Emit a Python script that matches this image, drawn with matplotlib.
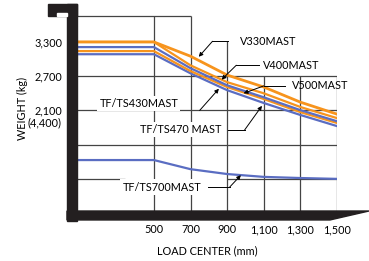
import matplotlib
matplotlib.use('Agg')
import matplotlib.pyplot as plt
from matplotlib.patches import Rectangle, Polygon

plt.rcParams['font.family'] = ['Lato', 'DejaVu Sans']
plt.rcParams['font.size'] = 7.8

# load center (mm) and rated weight (kg)
load_center = [80, 500, 700, 900, 1100, 1300, 1500]
v330 = [3300, 3300, 3050, 2720, 2510, 2245, 2035]
v400 = [3300, 3300, 2890, 2595, 2400, 2160, 1965]
tfts430 = [3210, 3210, 2840, 2540, 2330, 2105, 1910]
v500 = [3140, 3140, 2790, 2510, 2300, 2070, 1880]
tfts470 = [3085, 3085, 2750, 2455, 2230, 2020, 1825]
tfts700 = [1230, 1230, 1070, 985, 935, 915, 900]

x_ticks = [500, 700, 900, 1100, 1300, 1500]
x_labels = ['500', '700', '900', '1,100', '1,300', '1,500']
y_ticks = [3300, 2700, 2100]
y_labels = ['3,300', '2,700', '2,100']

orange = '#F7941D'
blue = '#5A6DC2'
gridc = '#444444'

fig = plt.figure(figsize=(3.69, 2.61), dpi=100)
ax = fig.add_axes([77/369, 1-211/261, 260/369, 195/261])
ax.set_xlim(80, 1500)
ax.set_ylim(337, 3755)
for s in ax.spines.values():
    s.set_visible(False)

# stepped grid
ax.vlines([500, 700], 337, 3755, color=gridc, lw=0.9, zorder=1)
ax.vlines([900], 337, 3312, color=gridc, lw=0.9, zorder=1)
ax.vlines([1100, 1300, 1500], 337, 2700, color=gridc, lw=0.9, zorder=1)
ax.hlines(3755, 80, 700, color=gridc, lw=0.9, zorder=1, clip_on=False)
ax.hlines([2700, 2100, 1500], 80, 1500, color=gridc, lw=0.9, zorder=1)
ax.hlines(900, 80, 340, color=gridc, lw=0.9, zorder=1)
ax.hlines(900, 900, 1500, color=gridc, lw=0.9, zorder=1)

# curves
lw = 1.6
ax.plot(load_center, tfts700, color=blue, lw=lw, zorder=3)
ax.plot(load_center, tfts470, color=blue, lw=lw, zorder=3)
ax.plot(load_center, v500, color=orange, lw=lw, zorder=3)
ax.plot(load_center, tfts430, color=blue, lw=lw, zorder=3)
ax.plot(load_center, v400, color=orange, lw=lw, zorder=3)
ax.plot(load_center, v330, color=orange, lw=lw + 0.4, zorder=3)

# black frame
blk = '#231F20'
ax.add_patch(Rectangle((-0.0385, -0.051), 0.0385, 1.1125, transform=ax.transAxes,
                       color=blk, clip_on=False, zorder=5))
ax.add_patch(Rectangle((-0.1115, 1.0), 0.1115, 0.0615, transform=ax.transAxes,
                       color=blk, clip_on=False, zorder=5))
ax.add_patch(Rectangle((-0.077, 0.999), 0.0385, 0.016, transform=ax.transAxes,
                       color='white', clip_on=False, zorder=6))
ax.add_patch(Polygon([(-0.0385, 0.0), (1.123, 0.0), (0.973, -0.046), (-0.0385, -0.046)],
                     closed=True, transform=ax.transAxes, color=blk, clip_on=False, zorder=5))

# leaders and labels
arw = dict(arrowstyle='-|>', color='black', lw=0.7, mutation_scale=6, shrinkA=0, shrinkB=0)
box = dict(facecolor='white', edgecolor='none', pad=1.5)

ax.plot([820, 905], [3312, 3312], color='black', lw=0.7, zorder=4)
ax.annotate('', xy=(745, 3040), xytext=(820, 3312), arrowprops=arw, zorder=4)
ax.text(968, 3312, 'V330MAST', ha='left', va='center', zorder=7)

ax.plot([950, 1075], [2892, 2892], color='black', lw=0.7, zorder=4)
ax.annotate('', xy=(870, 2640), xytext=(950, 2892), arrowprops=arw, zorder=4)
ax.text(1094, 2892, 'V400MAST', ha='left', va='center', zorder=7)

ax.plot([1100, 1215], [2530, 2530], color='black', lw=0.7, zorder=4)
ax.annotate('', xy=(990, 2400), xytext=(1100, 2530), arrowprops=arw, zorder=4)
ax.text(1252, 2540, 'V500MAST', ha='left', va='center', zorder=7)

ax.annotate('', xy=(855, 2480), xytext=(750, 2100), arrowprops=arw, zorder=4)
ax.text(418, 2228, 'TF/TS430MAST', ha='center', va='center', bbox=box, zorder=7)

ax.plot([903, 995], [1755, 1755], color='black', lw=0.7, zorder=4)
ax.annotate('', xy=(1090, 2180), xytext=(995, 1755), arrowprops=arw, zorder=4)
ax.text(647, 1772, 'TF/TS470 MAST', ha='center', va='center', bbox=box, zorder=7)

ax.plot([794, 914], [757, 757], color='black', lw=0.7, zorder=4)
ax.annotate('', xy=(975, 965), xytext=(914, 757), arrowprops=arw, zorder=4)
ax.text(543, 757, 'TF/TS700MAST', ha='center', va='center', bbox=box, zorder=7)

# axes text
ax.set_xticks(x_ticks)
ax.set_xticklabels(x_labels)
ax.set_yticks(y_ticks)
ax.set_yticklabels(y_labels)
ax.tick_params(axis='x', length=0, pad=9.5)
ax.tick_params(axis='y', length=0, pad=10.8)
ax.annotate('(4,400)', xy=(0, 2100), xycoords=('axes fraction', 'data'),
            xytext=(-10.8, -8.6), textcoords='offset points', ha='right', va='center')
ax.set_ylabel('WEIGHT (kg)')
ax.yaxis.set_label_coords(-0.19, 0.528)
ax.set_xlabel('LOAD CENTER (mm)')
ax.xaxis.set_label_coords(0.5, -0.175)

fig.savefig('out.png', dpi=100)
